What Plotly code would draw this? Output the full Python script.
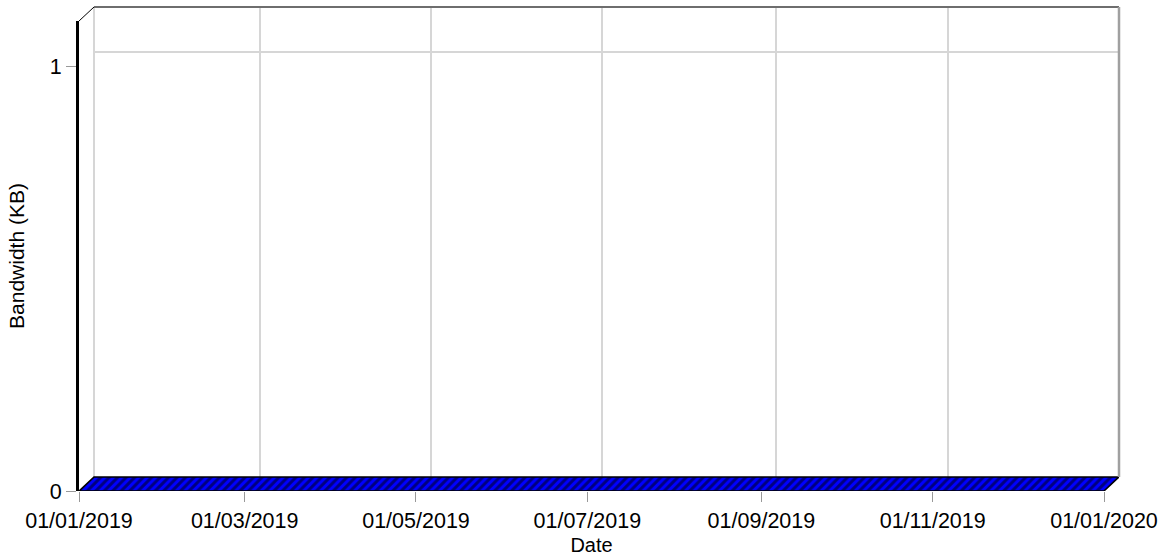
import pandas as pd
import plotly.graph_objects as go

# ---- data ----
series_dates = ["2019-01-01", "2020-01-01"]
bandwidth_kb = [0, 0]
x_range = ["2019-01-01", "2020-01-01"]
y_ticks = [0, 1]
y_tick_text = ["0", "1"]

# ---- geometry (pixels) ----
W, H = 1166, 556
L, R, T, B = 79, 47, 7, 65
DX, DY = 15, 14                      # 3D depth offset
pw, ph = W - L - R, H - T - B        # paper size
front_w, front_h = pw - DX, ph - DY
px_per_unit = 425.0
y_top = front_h / px_per_unit

fx1 = front_w / pw
fy1 = front_h / ph
bx0 = DX / pw
by0 = DY / ph

t0 = pd.Timestamp(x_range[0])
t1 = pd.Timestamp(x_range[1])
span = t1 - t0
x_shift = span * (DX / front_w)
y_shift = DY / px_per_unit

FONT = "Liberation Sans, Arial, sans-serif"

fig = go.Figure()

# floor face of the zero-height series (front edge at value, back edge at depth)
d0 = pd.Timestamp(series_dates[0])
d1 = pd.Timestamp(series_dates[-1])
v0, v1 = bandwidth_kb[0], bandwidth_kb[-1]
fx = [d0, d1, d1 + x_shift, d0 + x_shift, d0]
fy = [v0, v1, v1 + y_shift, v0 + y_shift, v0]
fig.add_trace(go.Scatter(
    x=fx, y=fy, xaxis="x3", yaxis="y3", mode="lines", fill="toself",
    fillcolor="#0000ff",
    fillpattern=dict(shape="/", bgcolor="#0000ff", fgcolor="#000000", size=6, solidity=0.5),
    line=dict(color="#000000", width=1.5), hoverinfo="skip", showlegend=False,
))

# invisible traces on front / back axes
fig.add_trace(go.Scatter(x=series_dates, y=bandwidth_kb, mode="lines",
                         line=dict(width=0), showlegend=False, hoverinfo="skip"))
fig.add_trace(go.Scatter(x=series_dates, y=bandwidth_kb, xaxis="x2", yaxis="y2",
                         mode="lines", line=dict(width=0), showlegend=False, hoverinfo="skip"))

tickfont = dict(family=FONT, size=21.5, color="#000000")

fig.update_layout(
    width=W, height=H,
    margin=dict(l=L, r=R, t=T, b=B, pad=0),
    paper_bgcolor="white", plot_bgcolor="rgba(0,0,0,0)",
    font=dict(family=FONT, size=21, color="#000000"),
    xaxis=dict(
        domain=[0, fx1], range=x_range, type="date",
        dtick="M2", tick0=x_range[0], tickformat="%d/%m/%Y",
        ticks="outside", ticklen=10, tickcolor="#999999", tickwidth=1,
        showgrid=False, zeroline=False, showline=False,
        tickfont=tickfont,
        title=dict(text="Date", font=dict(family=FONT, size=20), standoff=6),
        anchor="y", automargin=False,
    ),
    yaxis=dict(
        domain=[0, fy1], range=[0, y_top],
        tickvals=y_ticks, ticktext=y_tick_text,
        ticks="outside", ticklen=10, tickcolor="#999999", tickwidth=1,
        showgrid=False, zeroline=False,
        showline=True, linecolor="#000000", linewidth=3,
        tickfont=tickfont,
        title=dict(text="Bandwidth (KB)", font=dict(family=FONT, size=21), standoff=20),
        anchor="x", automargin=False,
    ),
    xaxis2=dict(
        domain=[bx0, 1], range=x_range, type="date", dtick="M2", tick0=x_range[0],
        showgrid=True, gridcolor="#d6d6d6", gridwidth=1.5,
        showticklabels=False, ticks="", zeroline=False, showline=False,
        anchor="y2",
    ),
    yaxis2=dict(
        domain=[by0, 1], range=[0, y_top], tickvals=y_ticks,
        showgrid=True, gridcolor="#d6d6d6", gridwidth=1.5,
        showticklabels=False, ticks="", zeroline=False, showline=False,
        anchor="x2",
    ),
    xaxis3=dict(
        domain=[0, 1], range=[t0, t1 + x_shift], type="date",
        visible=False, anchor="y3",
    ),
    yaxis3=dict(
        domain=[0, 1], range=[0, ph / px_per_unit],
        visible=False, anchor="x3",
    ),
    shapes=[
        # back wall edges
        dict(type="line", xref="paper", yref="paper", x0=bx0, y0=1, x1=1, y1=1,
             line=dict(color="#6e6e6e", width=2), layer="above"),
        dict(type="line", xref="paper", yref="paper", x0=1, y0=by0, x1=1, y1=1,
             line=dict(color="#a0a0a0", width=2.5), layer="above"),
        dict(type="line", xref="paper", yref="paper", x0=bx0, y0=by0, x1=bx0, y1=1,
             line=dict(color="#c8c8c8", width=1.5), layer="below"),
        # depth connector top-left
        dict(type="line", xref="paper", yref="paper", x0=0, y0=fy1, x1=bx0, y1=1,
             line=dict(color="#000000", width=1), layer="above"),
    ],
)

fig.write_html("out.html", config={"displayModeBar": False},
               post_script="document.body.style.margin='0px';")
